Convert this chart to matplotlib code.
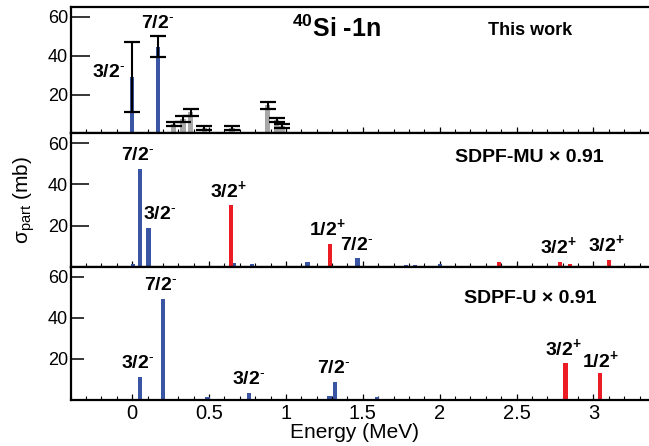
import matplotlib
matplotlib.use('Agg')
import matplotlib.pyplot as plt
from matplotlib.ticker import MultipleLocator, FixedLocator, NullFormatter

plt.rcParams['font.family'] = ['Liberation Sans', 'DejaVu Sans']
plt.rcParams['mathtext.fontset'] = 'custom'
plt.rcParams['mathtext.rm'] = 'Liberation Sans'
plt.rcParams['mathtext.bf'] = 'Liberation Sans:bold'
plt.rcParams['mathtext.it'] = 'Liberation Sans:italic'
plt.rcParams['mathtext.default'] = 'bf'

# ---------------- data ----------------
# Panel 1: this work (experiment)
exp_E = [0.0, 0.17]
exp_val = [28.8, 44.4]
exp_err_lo = [17.8, 5.2]
exp_err_hi = [18.0, 5.6]
gray_E = [0.27, 0.33, 0.38, 0.47, 0.65, 0.88, 0.94, 0.975]
gray_val = [5.0, 7.5, 10.8, 2.8, 2.8, 14.4, 6.8, 3.7]
gray_err = [1.1, 1.5, 1.8, 1.0, 1.0, 1.6, 1.0, 1.0]

# Panel 2: SDPF-MU x 0.91
mu_neg_E = [0.007, 0.051, 0.105, 0.39, 0.663, 0.78, 1.14, 1.466, 1.78, 1.84, 2.0]
mu_neg_val = [1.1, 47.3, 19.0, 0.5, 1.6, 1.3, 2.1, 4.0, 0.6, 1.0, 1.5]
mu_pos_E = [0.641, 1.285, 2.385, 2.78, 2.846, 3.10]
mu_pos_val = [29.8, 11.1, 2.1, 2.4, 1.5, 3.2]

# Panel 3: SDPF-U x 0.91
u_neg_E = [0.007, 0.051, 0.2, 0.49, 0.76, 1.283, 1.317, 1.593]
u_neg_val = [0.3, 11.1, 48.9, 1.0, 3.4, 1.6, 8.6, 1.3]
u_pos_E = [2.817, 3.044]
u_pos_val = [17.9, 12.8]

# state labels: (text, E, y)
M = r"$^{\text{-}}$"
P = r"$^{+}$"
labels1 = [("3/2" + M, -0.15, 28.9), ("7/2" + M, 0.165, 54.0)]
labels2 = [("7/2" + M, 0.037, 51.9), ("3/2" + M, 0.177, 23.2),
           ("3/2" + P, 0.628, 34.0), ("1/2" + P, 1.27, 15.4),
           ("7/2" + M, 1.46, 8.1), ("3/2" + P, 2.77, 6.8),
           ("3/2" + P, 3.085, 7.8)]
labels3 = [("3/2" + M, 0.034, 15.2), ("7/2" + M, 0.183, 53.2),
           ("3/2" + M, 0.756, 7.6), ("7/2" + M, 1.31, 12.8),
           ("3/2" + P, 2.805, 21.7), ("1/2" + P, 3.046, 16.0)]

xticks = [0, 0.5, 1, 1.5, 2, 2.5, 3]
xticklabels = ["0", "0.5", "1", "1.5", "2", "2.5", "3"]
yticks = [20, 40, 60]

BLUE = "#3a55a4"
RED = "#ec1c24"
GRAY = "#a8a8a8"
BW = 0.028

W, H = 649, 446
fig = plt.figure(figsize=(W / 100, H / 100), dpi=100)

left_px, right_px = 70.7, 655.0
panels_px = [(7.3, 133.5), (133.5, 266.7), (266.7, 399.5)]
ytick_len_px = [19, 18, 13]

axes = []
for i, (t, b) in enumerate(panels_px):
    ax = fig.add_axes([left_px / W, 1 - b / H, (right_px - left_px) / W, (b - t) / H])
    ax.set_xlim(-0.4, 3.4)
    ax.set_ylim(0, 64.8)
    ax.spines['right'].set_visible(False)
    for s in ['left', 'top', 'bottom']:
        ax.spines[s].set_linewidth(1.6)
    ax.xaxis.set_major_locator(FixedLocator(xticks))
    ax.xaxis.set_minor_locator(MultipleLocator(0.1))
    ax.yaxis.set_major_locator(FixedLocator(yticks))
    ax.tick_params(axis='x', which='major', direction='in', length=4.5, width=0.9, top=False)
    ax.tick_params(axis='x', which='minor', direction='in', length=3, width=0.8, top=False)
    ax.tick_params(axis='y', which='major', direction='in', length=ytick_len_px[i] * 0.72,
                   width=1.1, labelsize=13, pad=2, right=False)
    if i < 2:
        ax.xaxis.set_major_formatter(NullFormatter())
    else:
        ax.set_xticklabels(xticklabels)
        ax.tick_params(axis='x', which='major', labelsize=14.5, pad=3)
    axes.append(ax)

ax1, ax2, ax3 = axes

# Panel 1
ax1.bar(gray_E, gray_val, width=0.035, color=GRAY, zorder=2)
ax1.errorbar(gray_E, gray_val, yerr=gray_err, fmt='none', ecolor='black',
             elinewidth=1.5, capsize=6, capthick=1.6, zorder=3)
ax1.bar(exp_E, exp_val, width=BW, color=BLUE, zorder=2)
ax1.errorbar(exp_E, exp_val, yerr=[exp_err_lo, exp_err_hi], fmt='none', ecolor='black',
             elinewidth=1.5, capsize=6, capthick=1.6, zorder=3)
ax1.text(1.33, 49.6, "$^{40}$Si -1n", fontsize=18, fontweight='bold', ha='center', va='baseline')
ax1.text(2.59, 50.6, "This work", fontsize=13, fontweight='bold', ha='center', va='baseline')

# Panel 2
ax2.bar(mu_neg_E, mu_neg_val, width=BW, color=BLUE, zorder=2)
ax2.bar(mu_pos_E, mu_pos_val, width=BW, color=RED, zorder=2)
ax2.text(2.585, 51.0, "SDPF-MU × 0.91", fontsize=14, fontweight='bold', ha='center', va='baseline')

# Panel 3
ax3.bar(u_neg_E, u_neg_val, width=BW, color=BLUE, zorder=2)
ax3.bar(u_pos_E, u_pos_val, width=BW, color=RED, zorder=2)
ax3.text(2.59, 47.3, "SDPF-U × 0.91", fontsize=14, fontweight='bold', ha='center', va='baseline')

for ax, labs in [(ax1, labels1), (ax2, labels2), (ax3, labels3)]:
    for txt, x, y in labs:
        ax.text(x, y, txt, fontsize=14, fontweight='bold', ha='center', va='baseline', zorder=4)

fig.text(355 / W, 1 - 433 / H, "Energy (MeV)", fontsize=15, ha='center', va='center')
fig.text(24 / W, 1 - 200 / H, r"σ$_{\mathrm{part}}$ (mb)", fontsize=15, rotation=90,
         ha='center', va='center')

fig.savefig("out.png", dpi=100)
